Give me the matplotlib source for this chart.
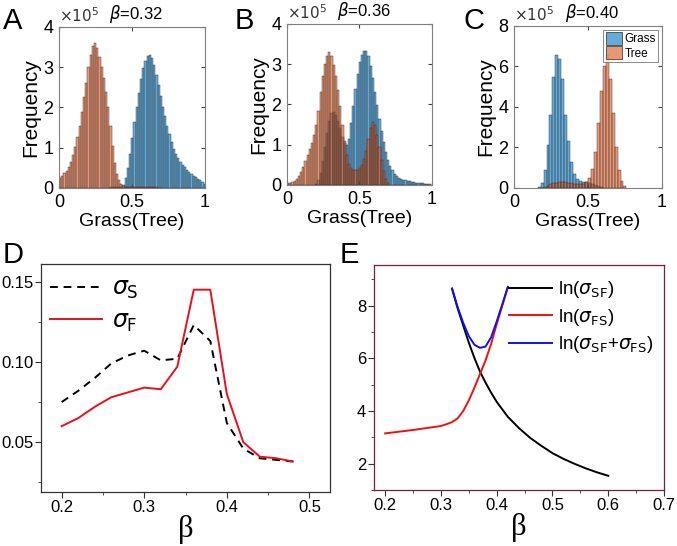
import numpy as np
import matplotlib
matplotlib.use("Agg")
import matplotlib.pyplot as plt
from matplotlib.patches import Patch
from matplotlib.ticker import MultipleLocator, FormatStrFormatter

plt.rcParams['font.family'] = ['Liberation Sans', 'DejaVu Sans']
plt.rcParams['mathtext.fontset'] = 'dejavusans'

# ---- histogram data (counts in units of 1e5) ----
# panel A, beta = 0.32, bin width 0.015
a_width = 0.015
a_grass_start = 0.345
a_grass = [0.02, 0.02, 0.02, 0.02, 0.02, 0.03,
           0.08, 0.25, 0.5, 0.85, 1.25, 1.65, 2.0, 2.35, 2.7, 2.98, 3.15, 3.27, 3.3,
           3.22, 3.05, 2.8, 2.55, 2.28, 2.0, 1.78, 1.55, 1.34, 1.15, 0.98, 0.85,
           0.74, 0.65, 0.58, 0.51, 0.45, 0.4, 0.35, 0.31, 0.27, 0.23, 0.19, 0.15, 0.11]
a_tree_start = 0.0
a_tree = [0.25, 0.30, 0.36, 0.42, 0.52, 0.65, 0.82, 1.02, 1.27, 1.55, 1.88, 2.25,
          2.62, 3.0, 3.3, 3.52, 3.6, 3.48, 3.25, 3.0, 2.72, 2.38, 2.0, 1.55, 1.05,
          0.62, 0.35, 0.2, 0.1, 0.05, 0.03, 0.03, 0.03, 0.03, 0.03, 0.03, 0.03,
          0.03, 0.03, 0.03, 0.03, 0.02, 0.02, 0.02, 0.02, 0.01, 0.01]

# panel B, beta = 0.36, bin width 0.015
b_width = 0.015
b_grass_start = 0.195
b_grass = [0.03, 0.12, 0.3, 0.6, 0.95, 1.3, 1.6, 1.78, 1.82, 1.74, 1.6, 1.42,
           1.2, 1.05, 1.0, 1.15, 1.55, 1.95, 2.38, 2.75, 3.05, 3.22, 3.32, 3.34,
           3.2, 2.95, 2.65, 2.3, 1.98, 1.65, 1.35, 1.08, 0.82, 0.62, 0.48, 0.37,
           0.28, 0.22, 0.18, 0.15, 0.13, 0.12, 0.1, 0.09, 0.08, 0.07, 0.06, 0.05,
           0.04, 0.04, 0.03, 0.02, 0.02, 0.01]
b_tree_start = 0.0
b_tree = [0.04, 0.05, 0.07, 0.1, 0.15, 0.22, 0.32, 0.45, 0.6, 0.75, 0.9, 1.05,
          1.25, 1.5, 1.85, 2.3, 2.7, 3.0, 3.2, 3.3, 3.2, 2.98, 2.7, 2.35, 1.95,
          1.5, 1.1, 0.75, 0.52, 0.42, 0.38, 0.36, 0.38, 0.42, 0.5, 0.65, 0.85,
          1.15, 1.42, 1.57, 1.5, 1.25, 0.95, 0.62, 0.35, 0.15, 0.05]

# panel C, beta = 0.40, bin width 0.02
c_width = 0.02
c_grass_start = 0.16
c_grass = [0.03, 0.25, 0.9, 2.1, 3.6, 5.5, 6.55, 6.35, 5.4, 3.6, 2.3, 1.3, 0.7,
           0.45, 0.35, 0.3, 0.28, 0.25, 0.2, 0.14, 0.08, 0.03]
c_tree_start = 0.18
c_tree = [0.02, 0.05, 0.1, 0.18, 0.24, 0.27, 0.3, 0.3, 0.28, 0.26, 0.24, 0.22,
          0.2, 0.2, 0.22, 0.3, 0.5, 0.95, 1.8, 3.2, 4.8, 6.0, 6.55, 5.4, 3.7,
          2.0, 0.9, 0.35, 0.08]

# ---- panel D ----
d_beta = [0.20, 0.22, 0.24, 0.26, 0.28, 0.30, 0.32, 0.34, 0.36, 0.38, 0.40,
          0.42, 0.44, 0.46, 0.48]
sigma_s = [0.075, 0.082, 0.090, 0.099, 0.104, 0.107, 0.101, 0.102, 0.123,
           0.113, 0.062, 0.046, 0.040, 0.039, 0.038]
sigma_f = [0.060, 0.065, 0.072, 0.078, 0.081, 0.084, 0.083, 0.097, 0.145,
           0.145, 0.080, 0.050, 0.041, 0.040, 0.038]

# ---- panel E ----
sf_beta = [0.32, 0.33, 0.34, 0.35, 0.36, 0.37, 0.38, 0.39, 0.40, 0.42, 0.44,
           0.46, 0.48, 0.50, 0.52, 0.54, 0.56, 0.58, 0.60]
ln_sf = [8.65, 7.9, 7.25, 6.6, 6.02, 5.5, 5.08, 4.7, 4.35, 3.78, 3.35, 2.98,
         2.68, 2.4, 2.18, 1.99, 1.82, 1.67, 1.54]
fs_beta = [0.20, 0.25, 0.30, 0.31, 0.32, 0.33, 0.34, 0.35, 0.36, 0.37, 0.38,
           0.39, 0.40, 0.41, 0.42]
ln_fs = [3.15, 3.28, 3.43, 3.5, 3.58, 3.72, 4.0, 4.4, 4.88, 5.4, 5.92, 6.55,
         7.3, 8.0, 8.7]
sum_beta = [0.32, 0.33, 0.34, 0.35, 0.36, 0.37, 0.38, 0.39, 0.40, 0.41, 0.42]
ln_sum = [8.65, 7.95, 7.35, 6.85, 6.52, 6.4, 6.45, 6.8, 7.4, 8.05, 8.72]

blue = (0.0, 0.447, 0.741, 0.6)
orange = (0.85, 0.325, 0.098, 0.6)
edge = '#2a2a2a'

fig = plt.figure(figsize=(6.77, 5.46), dpi=100)


def hist_panel(rect, grass, g0, tree, t0, w, ymax, ystep, beta, letter, lx):
    ax = fig.add_axes(rect)
    ax.bar(g0 + w * np.arange(len(grass)), grass, width=w, align='edge',
           facecolor=blue, edgecolor=edge, linewidth=0.3, label='Grass')
    ax.bar(t0 + w * np.arange(len(tree)), tree, width=w, align='edge',
           facecolor=orange, edgecolor=edge, linewidth=0.3, label='Tree')
    ax.set_xlim(0, 1)
    ax.set_ylim(0, ymax)
    ax.set_xticks([0, 0.5, 1])
    ax.set_xticklabels(['0', '0.5', '1'])
    ax.set_yticks(np.arange(0, ymax + 0.1, ystep))
    ax.tick_params(direction='in', length=3, top=True, right=True,
                   labelsize=13, color='#444444', pad=4)
    for s in ax.spines.values():
        s.set_color('#808080')
        s.set_linewidth(0.8)
    ax.set_xlabel('Grass(Tree)', fontsize=14, labelpad=2)
    ax.set_ylabel('Frequency', fontsize=15, labelpad=2)
    ax.text(0.0, 1.015, r'$\times10^5$', transform=ax.transAxes, fontsize=11,
            color='#333333', ha='left', va='bottom')
    ax.text(0.53, 1.015, r'$\beta$=' + beta, transform=ax.transAxes, fontsize=12,
            ha='center', va='bottom')
    fig.text(lx, 0.947, letter, fontsize=21, ha='left', va='baseline')
    return ax


hist_panel([0.0871, 0.6557, 0.2157, 0.2949], a_grass, a_grass_start, a_tree,
           a_tree_start, a_width, 4, 1, '0.32', 'A', 0.004)
hist_panel([0.4239, 0.6612, 0.2142, 0.2949], b_grass, b_grass_start, b_tree,
           b_tree_start, b_width, 4, 1, '0.36', 'B', 0.346)
axc = hist_panel([0.7592, 0.6557, 0.2186, 0.2967], c_grass, c_grass_start, c_tree,
                 c_tree_start, c_width, 8, 2, '0.40', 'C', 0.685)

# legend only in panel C
handles = [Patch(facecolor=blue, edgecolor=edge, linewidth=0.5),
           Patch(facecolor=orange, edgecolor=edge, linewidth=0.5)]
leg = axc.legend(handles, ['Grass', 'Tree'], loc='upper right', fontsize=8.5,
                 frameon=True, fancybox=False, handlelength=1.4,
                 handleheight=1.3, handletextpad=0.2, borderpad=0.2,
                 labelspacing=0.1, borderaxespad=0.3)
leg.get_frame().set_edgecolor('#555555')
leg.get_frame().set_linewidth(0.6)

# panel D
axd = fig.add_axes([0.0606, 0.0989, 0.4269, 0.4176])
axd.plot(d_beta, sigma_s, color='black', linestyle=(0, (4, 3)), linewidth=1.4,
         label=r'$\sigma_{\rm S}$')
axd.plot(d_beta, sigma_f, color='#e8101a', linewidth=1.4, label=r'$\sigma_{\rm F}$')
axd.set_xlim(0.175, 0.525)
axd.set_ylim(0.019, 0.161)
axd.xaxis.set_major_locator(MultipleLocator(0.1))
axd.xaxis.set_minor_locator(MultipleLocator(0.05))
axd.yaxis.set_major_locator(MultipleLocator(0.05))
axd.yaxis.set_minor_locator(MultipleLocator(0.025))
axd.yaxis.set_major_formatter(FormatStrFormatter('%.2f'))
axd.tick_params(which='both', direction='out', labelsize=12, color='#333333', pad=1.5)
axd.tick_params(which='major', length=4)
axd.tick_params(which='minor', length=2.5)
for s in axd.spines.values():
    s.set_color('#333333')
    s.set_linewidth(0.9)
axd.set_xlabel('β', fontsize=22, family='Liberation Serif', labelpad=0)
axd.legend(loc='upper left', frameon=False, fontsize=17, handlelength=2.2,
           handletextpad=0.4, labelspacing=0.4, borderaxespad=0.0,
           bbox_to_anchor=(0.0, 0.98))
fig.text(0.004, 0.518, 'D', fontsize=21, ha='left', va='baseline')

# panel E
axe = fig.add_axes([0.5524, 0.1026, 0.4284, 0.4121])
axe.plot(sf_beta, ln_sf, color='black', linewidth=1.4,
         label=r'ln($\sigma_{\rm SF}$)')
axe.plot(fs_beta, ln_fs, color='#f01010', linewidth=1.4,
         label=r'ln($\sigma_{\rm FS}$)')
axe.plot(sum_beta, ln_sum, color='#1010f0', linewidth=1.4,
         label=r'ln($\sigma_{\rm SF}$+$\sigma_{\rm FS}$)')
axe.set_xlim(0.18, 0.70)
axe.set_ylim(1.0, 9.55)
axe.xaxis.set_major_locator(MultipleLocator(0.1))
axe.xaxis.set_minor_locator(MultipleLocator(0.05))
axe.yaxis.set_major_locator(MultipleLocator(2))
axe.yaxis.set_minor_locator(MultipleLocator(1))
axe.tick_params(which='both', direction='out', labelsize=12, color='#333333', pad=1.5)
axe.tick_params(which='major', length=4)
axe.tick_params(which='minor', length=2.5)
for s in axe.spines.values():
    s.set_color('#7a1e3c')
    s.set_linewidth(0.9)
axe.set_xlabel('β', fontsize=22, family='Liberation Serif', labelpad=0)
axe.legend(loc='upper right', frameon=False, fontsize=13.5, handlelength=2.3,
           handletextpad=0.3, labelspacing=0.35, borderaxespad=0.0,
           bbox_to_anchor=(0.99, 0.97))
fig.text(0.502, 0.518, 'E', fontsize=21, ha='left', va='baseline')

fig.savefig('out.png', dpi=100)
